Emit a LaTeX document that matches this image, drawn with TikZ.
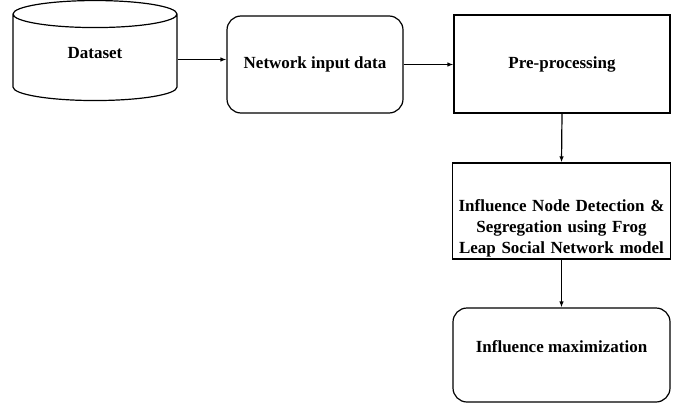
\documentclass[tikz,border=0pt]{standalone}
\usepackage{fontspec}
\setmainfont{Liberation Serif}
\usetikzlibrary{arrows.meta,shapes.geometric}

\begin{document}
\begin{tikzpicture}[x=1pt, y=-1pt, line width=1.2pt,
    caixa/.style={draw, minimum width=217pt, font=\fontsize{17}{21}\selectfont\bfseries},
    seta/.style={-{Latex[length=6pt,width=4.5pt]}}]
        \useasboundingbox (0,0) rectangle (676,404);

        % Base de dados
        \node[draw, cylinder, shape border rotate=90, aspect=0.44,
              minimum width=164pt, minimum height=100pt, text depth=14pt,
              font=\fontsize{17}{21}\selectfont\bfseries] (dataset) at (95,59.5) {Dataset};

        % Etapas do processo
        \node[caixa, rounded corners=14pt, minimum width=176pt, minimum height=97pt] (entrada) at (315,64.5) {Network input data};
        \node[caixa, minimum width=216pt, minimum height=98pt] (preproc) at (562,64) {Pre-processing};
        \node[caixa, minimum height=96pt, text width=212pt, align=center, inner ysep=2pt,
              text height=46pt, text depth=46pt] (deteccao) at (561.5,211)
              {Influence Node Detection \&\\ Segregation using Frog\\ Leap Social Network model};
        \node[caixa, rounded corners=14pt, minimum height=94pt, text depth=16pt] (maxim) at (561.5,355) {Influence maximization};

        % Setas entre as etapas
        \draw[seta] (dataset.east) -- (dataset.east -| entrada.west);
        \draw[seta] (entrada.east) -- (entrada.east -| preproc.west);
        \draw[seta] (preproc.south) -- (deteccao.north);
        \draw[seta] (deteccao.south) -- (maxim.north);
      \end{tikzpicture}
\end{document}
